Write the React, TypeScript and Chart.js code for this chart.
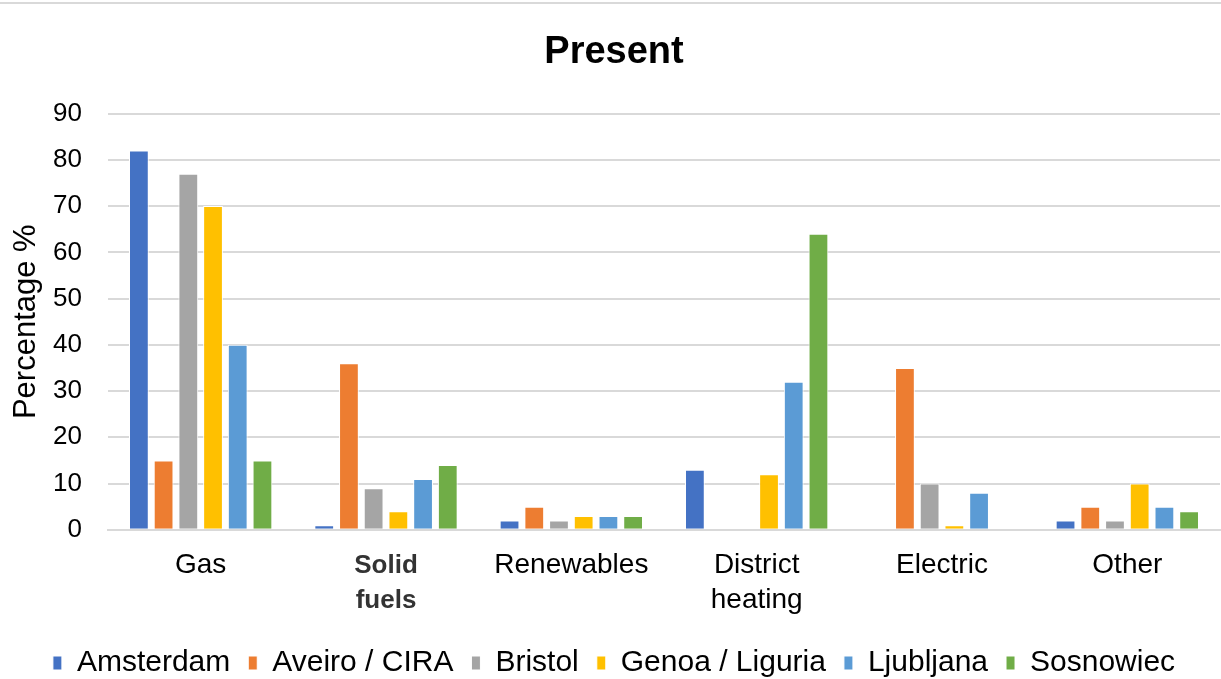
import React, { useEffect, useRef } from "react";
import { Chart, registerables } from "chart.js";

Chart.register(...registerables);

const categories: (string | string[])[] = ["Gas", ["Solid", "fuels"], "Renewables", ["District", "heating"], "Electric", "Other"];
const seriesNames = ["Amsterdam", "Aveiro / CIRA", "Bristol", "Genoa / Liguria", "Ljubljana", "Sosnowiec"];
const seriesColors = ["#4472C4", "#ED7D31", "#A5A5A5", "#FFC000", "#5B9BD5", "#70AD47"];
const amsterdam = [82, 1, 2, 13, 0, 2];
const aveiro = [15, 36, 5, 0, 35, 5];
const bristol = [77, 9, 2, 0, 10, 2];
const genoa = [70, 4, 3, 12, 1, 10];
const ljubljana = [40, 11, 3, 32, 8, 5];
const sosnowiec = [15, 14, 3, 64, 0, 4];
const seriesValues = [amsterdam, aveiro, bristol, genoa, ljubljana, sosnowiec];
const yTicks = [0, 10, 20, 30, 40, 50, 60, 70, 80, 90];

const FONT = "'Liberation Sans', Arial, sans-serif";

const topLine = {
  id: "topLine",
  beforeDraw(chart: any) {
    const ctx = chart.ctx;
    ctx.save();
    ctx.fillStyle = "#ffffff";
    ctx.fillRect(0, 0, chart.width, chart.height);
    ctx.strokeStyle = "#d9d9d9";
    ctx.lineWidth = 2;
    ctx.beginPath();
    ctx.moveTo(0, 3);
    ctx.lineTo(chart.width, 3);
    ctx.stroke();
    ctx.restore();
  },
};

export default function App() {
  const ref = useRef<HTMLCanvasElement>(null);
  useEffect(() => {
    document.body.style.margin = "0";
    const chart = new Chart(ref.current!, {
      type: "bar",
      data: {
        labels: categories,
        datasets: seriesNames.map((name, i) => ({
          label: name,
          data: seriesValues[i],
          backgroundColor: seriesColors[i],
          borderColor: "#ffffff",
          borderWidth: 1,
          categoryPercentage: 0.8,
          barPercentage: 0.8,
        })),
      },
      plugins: [topLine],
      options: {
        animation: false,
        responsive: false,
        maintainAspectRatio: false,
        layout: { padding: { top: 30, right: 1, left: 8, bottom: -9 } },
        plugins: {
          title: {
            display: true,
            text: "Present",
            color: "#000000",
            font: { family: FONT, size: 38, weight: "bold" },
            padding: { top: 0, bottom: 38 },
          },
          legend: {
            position: "bottom",
            labels: {
              color: "#000000",
              font: { family: FONT, size: 30 },
              boxWidth: 9,
              boxHeight: 14,
              padding: 18,
            },
          },
          tooltip: { enabled: false },
        },
        scales: {
          x: {
            afterFit: (scale: any) => {
              scale.height = scale.height - 6;
            },
            grid: { display: false, drawTicks: false },
            border: { display: true, color: "#d9d9d9", width: 2 },
            ticks: {
              color: (ctx: any) => (ctx.index === 1 ? "#333333" : "#000000"),
              font: (ctx: any) =>
                ctx.index === 1
                  ? { family: FONT, size: 26, weight: "bold", lineHeight: 1.35 }
                  : { family: FONT, size: 28, lineHeight: 1.25 },
              padding: 18,
              maxRotation: 0,
              autoSkip: false,
            },
          },
          y: {
            min: 0,
            max: 90,
            afterBuildTicks: (scale: any) => {
              scale.ticks = yTicks.map((v) => ({ value: v }));
            },
            afterFit: (scale: any) => {
              scale.width = 100;
            },
            grid: { color: "#d9d9d9", lineWidth: 2, drawTicks: false },
            border: { display: false },
            ticks: {
              color: "#000000",
              font: { family: FONT, size: 26 },
              padding: 26,
            },
            title: {
              display: true,
              text: "Percentage %",
              color: "#000000",
              font: { family: FONT, size: 31 },
              padding: { top: 0, bottom: 4 },
            },
          },
        },
      },
    });
    return () => chart.destroy();
  }, []);
  return <canvas ref={ref} width={1221} height={679} style={{ display: "block" }} />;
}
